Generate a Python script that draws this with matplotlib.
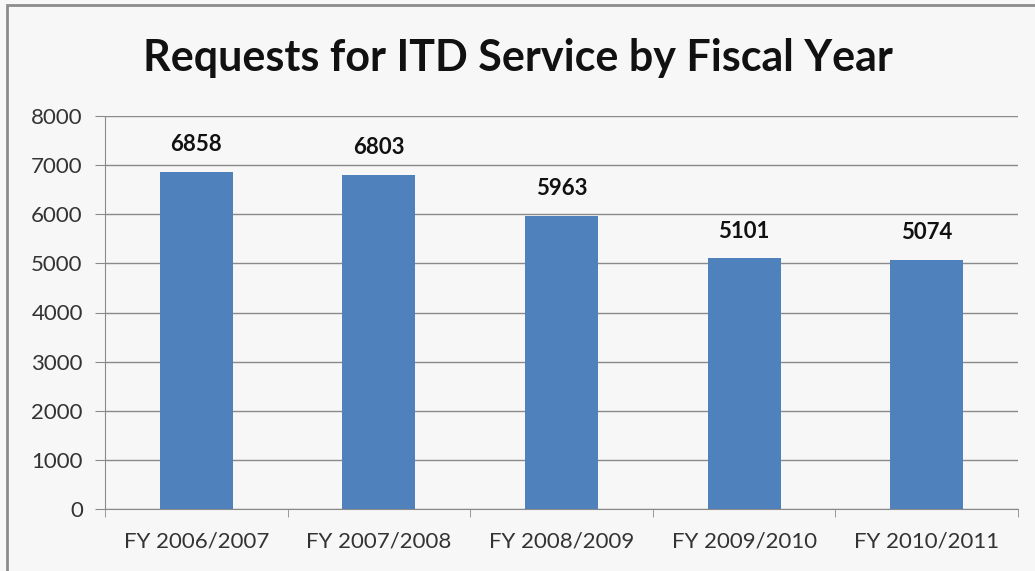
import matplotlib.pyplot as plt
from matplotlib.patches import Rectangle
import numpy as np

plt.rcParams['font.family'] = ['Lato', 'DejaVu Sans']

anos = ['FY 2006/2007', 'FY 2007/2008', 'FY 2008/2009', 'FY 2009/2010', 'FY 2010/2011']
pedidos = [6858, 6803, 5963, 5101, 5074]
yticks = [0, 1000, 2000, 3000, 4000, 5000, 6000, 7000, 8000]

fundo = '#f7f7f7'
azul = '#4f81bd'

fig = plt.figure(figsize=(10.35, 5.71), dpi=100, facecolor=fundo)
ax = fig.add_axes([105 / 1035, 1 - 509 / 571, (1018 - 105) / 1035, (509 - 116) / 571])
ax.set_facecolor(fundo)

# moldura cinza em volta do gráfico
fig.patches.append(Rectangle((7 / 1035, -0.1), 1.2, 0.1 + (571 - 5) / 571,
                             transform=fig.transFigure, fill=False,
                             edgecolor='#8c8c8c', linewidth=2))

x = np.arange(len(anos))
barras = ax.bar(x, pedidos, width=0.4, color=azul, zorder=3)

for xi, v in zip(x, pedidos):
    ax.annotate(str(v), (xi, v), xytext=(0, 12), textcoords='offset points',
                ha='center', va='bottom', fontsize=16, fontweight='bold', color='#111111')

ax.set_xlim(-0.5, len(anos) - 0.5)
ax.set_ylim(0, 8000)
ax.set_yticks(yticks)
ax.set_xticks(x)
ax.set_xticklabels(anos)
ax.set_xticks(np.arange(len(anos) + 1) - 0.5, minor=True)

ax.grid(axis='y', color='#8a8a8a', linewidth=1, zorder=0)
ax.tick_params(axis='y', length=7, color='#8a8a8a', labelsize=16, labelcolor='#333333', pad=9)
ax.tick_params(axis='x', which='major', length=0, labelsize=16, labelcolor='#333333', pad=16)
ax.tick_params(axis='x', which='minor', length=6, color='#8a8a8a')

for lado in ['top', 'right']:
    ax.spines[lado].set_visible(False)
ax.spines['left'].set_color('#8a8a8a')
ax.spines['bottom'].set_color('#8a8a8a')

fig.text(0.5, 1 - 58 / 571, 'Requests for ITD Service by Fiscal Year', ha='center', va='center',
         fontsize=31, fontweight='bold', color='#111111')

fig.savefig('out.png', dpi=100, facecolor=fundo)
